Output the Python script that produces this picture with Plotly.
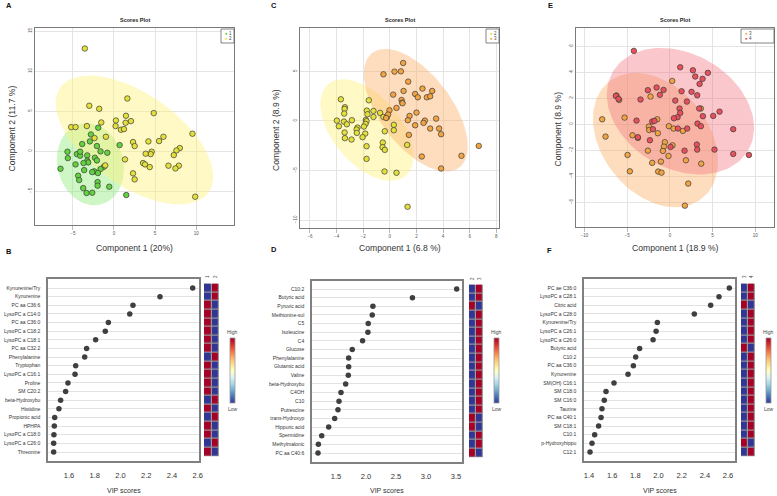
import numpy as np
import plotly.graph_objects as go

W, H = 777, 496

# ---------------- Scores plot data ----------------
# Panel A (groups 1 and 2)
A_g1_x = [-1.91, -2.8, -2.93, -3.86, -2.07, 0.69, -5.65, -5.61, -4.51, -4.11, -4.11, -3.25, -1.63, -0.81,
          -2.32, -2.07, -3.25, -3.13, -3.7, -4.67, -6.5, -3.62, -1.22, -1.63, -2.4, -1.95, -2.64, -4.35,
          -4.23, -1.99, -1.99, -0.57, -3.74, -3.33, -2.64, 1.5]
A_g1_y = [2.92, 2.08, 1.21, 0.88, 0.63, 0.75, -0.08, -0.88, -0.38, -0.58, -0.08, -0.54, -0.04, -0.21,
          -0.83, -1.17, -1.21, -1.42, -1.5, -1.67, -2.21, -2.38, -1.96, -2.25, -2.54, -2.75, -2.63, -3.08,
          -3.63, -3.88, -4.33, -4.46, -4.63, -5.25, -5.21, -5.5]
A_g2_x = [-3.54, 1.63, -3.0, -1.79, 4.84, 0.24, 1.46, 1.42, 2.07, -1.54, -5.2, -4.67, -3.29, 0.2, 0.85,
          1.22, 9.55, 6.02, -0.98, 5.49, 4.19, 2.32, 2.52, 8.01, 7.6, 4.59, 4.47, 3.86, 7.28, 1.34, 3.54,
          3.78, 4.35, 6.63, 7.89, 7.48, -1.06, 2.32, 2.52, 9.88, -2.36]
A_g2_y = [12.83, 6.58, 5.67, 5.29, 4.75, 3.83, 4.42, 3.54, 3.75, 3.58, 3.0, 3.0, 3.13, 3.13, 2.67,
          2.75, 2.17, 1.79, 1.79, 1.25, 1.21, 1.13, 0.63, 0.38, 0.08, -0.08, -0.38, -0.33, -0.5, -1.04, -1.5,
          -1.67, -2.0, -1.83, -1.83, -2.17, -1.79, -2.79, -3.54, -5.71, 1.63]

# Panel C (groups 2 and 3)
C_g2_x = [-3.68, -1.58, -3.38, -3.4, -3.43, -1.73, -1.23, -0.73, -1.68, -1.23, -3.98, -2.85, -3.45, -3.83,
          -3.23, -1.8, -1.75, -1.83, -1.95, -0.48, -2.43, -2.5, -2.48, -3.4, -3.38, -2.88, -1.85, -2.05,
          -0.38, 0.3, 0.3, -1.75, -0.53, -0.55, -0.38, 1.3, -1.75, -0.4, 0.5, 1.33, -0.23]
C_g2_y = [2.18, 2.08, 1.38, 1.21, 0.74, 1.04, 1.01, 0.81, 0.67, 0.4, 0.03, 0.07, -0.07, -0.54,
          -0.34, 0.1, -0.03, -0.3, -0.57, 0.4, -0.67, -0.87, -1.21, -1.17, -1.74, -1.88, -1.28, -1.64,
          -1.04, -0.4, -0.94, -2.55, -2.18, -2.65, -2.92, -2.42, -3.83, -5.1, -5.23, -8.66, 0.34]
C_g3_x = [1.0, -0.48, 0.35, 0.83, 1.38, 0.25, 1.03, 2.45, 1.9, 2.1, 2.78, 3.03, 3.18, 0.88, 0.93, 0.95,
          0.5, -0.03, -0.13, -0.28, 2.0, 1.48, 1.35, 2.63, 2.53, 3.48, 1.9, 3.03, 3.7, 3.85, 1.43, 2.4,
          5.38, 6.68, 3.85]
C_g3_y = [5.84, 4.7, 4.97, 5.0, 3.96, 2.65, 3.02, 3.26, 2.72, 2.38, 2.38, 2.48, 3.02, 2.11, 1.85, 1.78,
          1.31, 1.07, 0.64, 0.3, 0.84, 0.5, 0.07, 0.03, -0.2, 0.23, -0.44, -0.77, -0.77, -1.34, -1.41, -3.59,
          -3.52, -2.52, -4.8]

# Panel E (groups 3 and 4)
E_g3_x = [0.27, -6.25, -5.94, -2.27, -7.93, -7.54, -5.31, -1.48, -2.46, -2.42, -4.38, -3.75, -1.41, -0.12,
          0.43, 1.52, -0.59, -0.7, -0.82, -0.16, 0.31, -2.58, -4.96, -2.07, -1.05, -1.37, -0.98, -4.69,
          1.88, 3.67, 2.15, 1.76, 3.63]
E_g3_y = [3.33, 2.21, 1.87, 2.13, 0.38, -0.95, 0.51, 0.38, -0.18, -0.44, -0.85, -1.05, -0.69, -0.15,
          -0.33, -0.51, -1.38, -1.72, -2.05, -2.44, -1.62, -2.03, -2.36, -2.97, -2.87, -3.64, -3.72, -3.62,
          -2.77, -3.03, -4.56, -6.26, 1.21]
E_g4_x = [-4.22, 1.21, 2.7, 2.97, 4.45, 3.83, 3.48, -1.56, -0.74, -2.58, 1.37, 2.54, 3.2, -1.17, -6.33,
          -6.02, -3.44, 0.63, 1.99, 1.13, 3.44, 1.21, 3.87, 5.82, 5.08, 0.9, 0.47, -3.91, -2.07, -1.8, 3.24,
          3.63, 0.94, 2.03, -1.99, 7.42, -3.75, -2.34, 0.08, 3.16, 3.2, 5.23, 1.72, 7.42, 9.26]
E_g4_y = [5.64, 4.38, 4.15, 3.67, 3.95, 3.49, 3.1, 2.82, 2.64, 2.62, 2.54, 2.49, 2.23, 2.26, 2.18,
          1.95, 1.9, 1.82, 1.74, 1.21, 1.21, 0.87, 0.62, 0.97, 0.64, 0.54, 0.46, 0.28, 0.21, 0.26, 0.05,
          -0.15, -0.33, -0.33, -0.38, -0.38, -1.0, -1.23, -1.74, -1.56, -1.95, -1.95, -2.03, -2.28, -2.36]

# ---------------- VIP data ----------------
B_names = ["Kynurenine/Try", "Kynurenine", "PC aa C36:6", "LysoPC a C14:0", "PC aa C36:0", "LysoPC a C18:2",
           "LysoPC a C18:1", "PC aa C32:2", "Phenylalanine", "Tryptophan", "LysoPC a C16:1", "Proline",
           "SM C20:2", "beta-Hydroxybu", "Histidine", "Propionic acid", "HPHPA", "LysoPC a C18:0",
           "LysoPC a C26:0", "Threonine"]
B_vip = [2.561, 2.307, 2.097, 2.072, 1.906, 1.882, 1.807, 1.737, 1.722, 1.652, 1.647, 1.592, 1.574,
         1.535, 1.522, 1.489, 1.486, 1.483, 1.481, 1.481]
B_grp = ["1", "2"]
B_high1 = [0, 0, 1, 1, 1, 1, 1, 1, 0, 1, 1, 1, 1, 0, 1, 0, 1, 1, 0, 1]   # 1 = high in first group

D_names = ["C10:2", "Butyric acid", "Pyruvic acid", "Methionine-sul", "C5", "Isoleucine", "C4", "Glucose",
           "Phenylalanine", "Glutamic acid", "Valine", "beta-Hydroxybu", "C4OH", "C10", "Putrescine",
           "trans-Hydroxyp", "Hippuric acid", "Spermidine", "Methylmalonic", "PC aa C40:6"]
D_vip = [3.511, 2.774, 2.115, 2.104, 2.037, 2.032, 1.943, 1.771, 1.711, 1.711, 1.705, 1.661, 1.583,
         1.55, 1.533, 1.478, 1.378, 1.262, 1.206, 1.2]
D_grp = ["2", "3"]
D_high1 = [0, 0, 1, 0, 0, 0, 0, 0, 0, 0, 0, 0, 0, 0, 0, 1, 1, 0, 0, 1]

F_names = ["PC ae C36:0", "LysoPC a C28:1", "Citric acid", "LysoPC a C28:0", "Kynurenine/Try",
           "LysoPC a C26:1", "LysoPC a C26:0", "Butyric acid", "C10:2", "PC aa C36:0", "Kynurenine",
           "SM(OH) C16:1", "SM C18:0", "SM C16:0", "Taurine", "PC aa C40:1", "SM C18:1", "C10:1",
           "p-Hydroxyhippu", "C12:1"]
F_vip = [2.611, 2.522, 2.45, 2.309, 1.99, 1.979, 1.953, 1.837, 1.803, 1.783, 1.737, 1.616, 1.547,
         1.532, 1.512, 1.504, 1.483, 1.449, 1.426, 1.409]
F_grp = ["3", "4"]
F_high1 = [0, 0, 1, 0, 0, 0, 0, 1, 0, 0, 0, 0, 0, 0, 0, 0, 0, 0, 1, 0]

# ---------------- styles ----------------
FONT = "Liberation Sans"
COL = {"1": "#62d23e", "2": "#e4e03a", "3": "#f2a443", "4": "#e9505c"}
FILL = {"1": "rgba(140,235,120,0.42)", "2": "rgba(255,240,120,0.42)",
        "3": "rgba(250,175,100,0.42)", "4": "rgba(242,110,120,0.38)"}


def px(x):
    return x / W


def py(y):
    return 1 - y / H


def ellipse(xs, ys, n=120):
    pts = np.column_stack([xs, ys])
    mu = pts.mean(axis=0)
    cov = np.cov(pts.T)
    vals, vecs = np.linalg.eigh(cov)
    t = np.sqrt(5.991464547)
    ang = np.linspace(0, 2 * np.pi, n)
    circ = np.vstack([np.cos(ang), np.sin(ang)])
    e = mu[:, None] + t * (vecs @ np.diag(np.sqrt(vals)) @ circ)
    return e[0], e[1]


def note(text, x, y, size, color="#333", angle=0, xanchor="center"):
    return dict(text=text, x=px(x), y=py(y), xref="paper", yref="paper", showarrow=False,
                xanchor=xanchor, yanchor="middle", textangle=angle,
                font=dict(size=size, color=color, family=FONT))


fig = go.Figure()
annotations = []
shapes = []

scores = [
    (1, [("1", A_g1_x, A_g1_y), ("2", A_g2_x, A_g2_y)], (35, 234), (28, 225), (-9.6, 14.6), (-9.25, 15.4),
     [-5, 0, 5, 10], [-5, 0, 5, 10, 15], "Component 1 (20%)", "Component 2 (11.7 %)", "A", (9, 6), 12),
    (2, [("2", C_g2_x, C_g2_y), ("3", C_g3_x, C_g3_y)], (300, 499), (28, 228), (-6.75, 8.2), (-10.8, 9.37),
     [-6, -4, -2, 0, 2, 4, 6, 8], [-10, -5, 0, 5], "Component 1 (6.8 %)", "Component 2 (8.9 %)", "C", (274, 6), 276),
    (3, [("3", E_g3_x, E_g3_y), ("4", E_g4_x, E_g4_y)], (576, 774), (28, 227), (-11.0, 12.2), (-7.9, 7.4),
     [-10, -5, 0, 5, 10], [-6, -4, -2, 0, 2, 4, 6], "Component 1 (18.9 %)", "Component (8.9 %)", "E", (550, 6), 557),
]

layout_axes = {}
for idx, groups, xd, yd, xr, yr, xt, yt, xl, yl, letter, lpos, ytx in scores:
    xa = "x" if idx == 1 else f"x{idx}"
    ya = "y" if idx == 1 else f"y{idx}"
    for g, xs, ys in groups:
        ex, ey = ellipse(xs, ys)
        fig.add_trace(go.Scatter(x=ex, y=ey, mode="lines", fill="toself", fillcolor=FILL[g],
                                 line=dict(width=0), hoverinfo="skip", showlegend=False,
                                 xaxis=xa, yaxis=ya))
    for g, xs, ys in groups:
        fig.add_trace(go.Scatter(x=xs, y=ys, mode="markers", showlegend=False,
                                 marker=dict(size=5.5, color=COL[g], line=dict(color="#3a3a3a", width=0.7)),
                                 xaxis=xa, yaxis=ya))
    common = dict(showgrid=True, gridcolor="#e4e4e4", gridwidth=0.6, zeroline=False, showline=True,
                  mirror=True, linecolor="#7a7a7a", linewidth=1, automargin=False,
                  tickfont=dict(size=4.5, color="#555", family=FONT))
    layout_axes[f"xaxis{idx}"] = dict(domain=[px(xd[0]), px(xd[1])], range=list(xr), anchor=ya,
                                      tickvals=xt, ticks="outside", ticklen=4, tickcolor="#bbb", **common)
    layout_axes[f"yaxis{idx}"] = dict(domain=[py(yd[1]), py(yd[0])], range=list(yr), anchor=xa,
                                      tickvals=yt, ticks="", tickangle=-90, **common)
    cx = (xd[0] + xd[1]) / 2
    annotations.append(note("<b>Scores Plot</b>", cx, 20, 5.5, "#222"))
    annotations.append(note(xl, cx, 248, 8.6))
    annotations.append(note(yl, ytx, (yd[0] + yd[1]) / 2 + 2, 8.6, angle=-90))
    annotations.append(note(f"<b>{letter}</b>", lpos[0], lpos[1], 7.5, "#111"))
    # legend box
    lw = 13 if idx != 3 else 33
    lx0 = xd[1] - lw
    shapes.append(dict(type="rect", xref="paper", yref="paper", x0=px(lx0), x1=px(xd[1]), y0=py(43),
                       y1=py(29), line=dict(color="#666", width=0.8), fillcolor="white"))
    for k, (g, _, _) in enumerate(groups):
        annotations.append(note(f"<span style='color:{COL[g]}'>●</span> {g}", lx0 + 1.5, 33 + 6 * k, 4.5,
                                "#444", xanchor="left"))

# ---------------- VIP panels ----------------
vip = [
    (4, 7, B_names, B_vip, B_grp, B_high1, (48, 199), (279, 461), (288, 452), (1.437, 2.61),
     [1.6, 1.8, 2.0, 2.2, 2.4, 2.6], "B", (9, 251), (204, 219), 230),
    (5, 8, D_names, D_vip, D_grp, D_high1, (312, 462), (281, 462), (289, 453), (1.1, 3.6),
     [1.5, 2.0, 2.5, 3.0, 3.5], "D", (274, 249), (469, 483), 494),
    (6, 9, F_names, F_vip, F_grp, F_high1, (584, 735), (279, 461), (288, 452), (1.357, 2.66),
     [1.4, 1.6, 1.8, 2.0, 2.2, 2.4, 2.6], "F", (549, 250), (741, 755), 766),
]

for idx, hidx, names, vals, grp, high1, xd, yd, rows, xr, xt, letter, lpos, hx, cbx in vip:
    n = len(names)
    s = (rows[1] - rows[0]) / (n - 1)
    r_top = -(rows[0] - yd[0]) / s
    r_bot = (n - 1) + (yd[1] - rows[1]) / s
    idxs = list(range(n))
    fig.add_trace(go.Scatter(x=vals, y=idxs, mode="markers", showlegend=False,
                             marker=dict(size=5.5, color="#3f3f3f"), xaxis=f"x{idx}", yaxis=f"y{idx}"))
    layout_axes[f"xaxis{idx}"] = dict(domain=[px(xd[0]), px(xd[1])], range=list(xr), anchor=f"y{idx}",
                                      tickvals=xt, ticktext=[f"{v:.1f}" for v in xt], showgrid=False,
                                      zeroline=False, showline=True, mirror=True, linecolor="#808080",
                                      linewidth=1.5, ticks="outside", ticklen=6, tickcolor="rgba(0,0,0,0)",
                                      automargin=False,
                                      tickfont=dict(size=7.5, color="#333", family=FONT))
    layout_axes[f"yaxis{idx}"] = dict(domain=[py(yd[1]), py(yd[0])], range=[r_bot, r_top],
                                      anchor=f"x{idx}", tickvals=idxs, ticktext=names, showgrid=True,
                                      gridcolor="#e2e2e2", gridwidth=1, zeroline=False, showline=True,
                                      mirror=True, linecolor="#808080", linewidth=1.5, ticks="outside",
                                      ticklen=5, tickcolor="rgba(0,0,0,0)", automargin=False,
                                      tickfont=dict(size=5, color="#333", family=FONT))
    # heatmap of group levels
    z = [[1 if h else -1, -1 if h else 1] for h in high1]
    top_px = rows[0] - s / 2
    bot_px = rows[1] + s / 2
    fig.add_trace(go.Heatmap(z=z, x=grp, y=idxs, zmin=-1, zmax=1, colorscale="RdYlBu", reversescale=True,
                             xgap=1.2, ygap=1.2, xaxis=f"x{hidx}", yaxis=f"y{hidx}", hoverinfo="skip",
                             showscale=True,
                             colorbar=dict(x=px(cbx), xanchor="left", y=py(370.5), yanchor="middle",
                                           len=65, lenmode="pixels", thickness=5, thicknessmode="pixels",
                                           showticklabels=False, ticks="", outlinewidth=0.8,
                                           outlinecolor="#999", xpad=0, ypad=0)))
    layout_axes[f"xaxis{hidx}"] = dict(domain=[px(hx[0]), px(hx[1])], range=[-0.5, 1.5], anchor=f"y{hidx}",
                                       side="top", showgrid=False, zeroline=False, showline=False,
                                       automargin=False, tickangle=-90, ticks="",
                                       tickfont=dict(size=4.5, color="#444", family=FONT))
    layout_axes[f"yaxis{hidx}"] = dict(domain=[py(yd[1]), py(yd[0])], range=[r_bot, r_top],
                                       anchor=f"x{hidx}", showgrid=False, zeroline=False, automargin=False,
                                       showticklabels=False, showline=False)
    shapes.append(dict(type="rect", xref="paper", yref="paper", x0=px(hx[0]), x1=px(hx[1]),
                       y0=py(bot_px), y1=py(top_px), line=dict(width=0), fillcolor="#9a9a9a",
                       layer="below"))
    cx = (xd[0] + xd[1]) / 2
    annotations.append(note("VIP scores", cx, 490, 7))
    annotations.append(note("High", cbx + 2.5, 332, 5, "#444"))
    annotations.append(note("Low", cbx + 2.5, 409, 5, "#444"))
    annotations.append(note(f"<b>{letter}</b>", lpos[0], lpos[1], 7.5, "#111"))

fig.update_layout(width=W, height=H, margin=dict(l=0, r=0, t=0, b=0, pad=0), paper_bgcolor="white",
                  plot_bgcolor="white", showlegend=False, annotations=annotations, shapes=shapes,
                  font=dict(family=FONT), **layout_axes)

fig.write_html("out.html", config={"displayModeBar": False},
               post_script="document.body.style.margin='0';document.body.style.overflow='hidden';")
